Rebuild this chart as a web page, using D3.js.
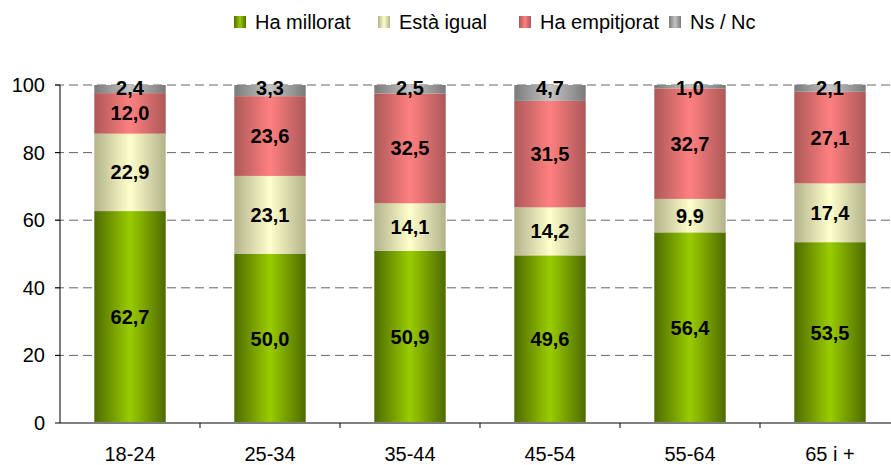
<!DOCTYPE html>
<html>
<head>
<meta charset="utf-8">
<script src="https://cdn.jsdelivr.net/npm/d3@7"></script>
<style>
  body { margin: 0; background: #fff; }
  text { font-family: "Liberation Sans", Arial, sans-serif; }
</style>
</head>
<body>
<div id="chart"></div>
<script>
// data
var categories = ["18-24", "25-34", "35-44", "45-54", "55-64", "65 i +"];
var seriesNames = ["Ha millorat", "Està igual", "Ha empitjorat", "Ns / Nc"];
var millorat   = [62.7, 50.0, 50.9, 49.6, 56.4, 53.5];
var igual      = [22.9, 23.1, 14.1, 14.2, 9.9, 17.4];
var empitjorat = [12.0, 23.6, 32.5, 31.5, 32.7, 27.1];
var nsnc       = [2.4, 3.3, 2.5, 4.7, 1.0, 2.1];
var yTicks = [0, 20, 40, 60, 80, 100];

var width = 891, height = 465;
var margin = {top: 85, right: -9, bottom: 42, left: 60};

var svg = d3.select("#chart").append("svg")
  .attr("width", width)
  .attr("height", height);

// gradients: dark edges, light centre
var grads = [
  {id: "g0", edge: "#4e6b00", mid: "#99cc00"},
  {id: "g1", edge: "#b3b38c", mid: "#ffffcc"},
  {id: "g2", edge: "#ad5858", mid: "#ff8080"},
  {id: "g3", edge: "#7a7a7a", mid: "#c4c4c4"}
];
var defs = svg.append("defs");
grads.forEach(function(g) {
  var lg = defs.append("linearGradient").attr("id", g.id)
    .attr("x1", "0%").attr("x2", "100%").attr("y1", "0%").attr("y2", "0%");
  lg.append("stop").attr("offset", "0%").attr("stop-color", g.edge);
  lg.append("stop").attr("offset", "50%").attr("stop-color", g.mid);
  lg.append("stop").attr("offset", "100%").attr("stop-color", g.edge);
});

var rows = categories.map(function(c, i) {
  return {cat: c, "Ha millorat": millorat[i], "Està igual": igual[i],
          "Ha empitjorat": empitjorat[i], "Ns / Nc": nsnc[i]};
});
var stack = d3.stack().keys(seriesNames)(rows);

var x = d3.scaleBand().domain(categories)
  .range([margin.left, width - margin.right])
  .paddingInner(0.49).paddingOuter(0.245);
var y = d3.scaleLinear().domain([0, 100])
  .range([height - margin.bottom, margin.top]);

// grid lines
svg.append("g").selectAll("line")
  .data(yTicks.filter(function(d) { return d > 0; }))
  .enter().append("line")
  .attr("x1", margin.left - 5).attr("x2", width)
  .attr("y1", function(d) { return y(d); })
  .attr("y2", function(d) { return y(d); })
  .attr("stroke", "#666")
  .attr("stroke-width", 1)
  .attr("stroke-dasharray", "9,5");

// bars
var layer = svg.append("g").selectAll("g")
  .data(stack).enter().append("g")
  .attr("fill", function(d, i) { return "url(#g" + i + ")"; });

layer.selectAll("rect")
  .data(function(d) { return d; })
  .enter().append("rect")
  .attr("x", function(d) { return x(d.data.cat); })
  .attr("width", x.bandwidth())
  .attr("y", function(d) { return y(d[1]); })
  .attr("height", function(d) { return y(d[0]) - y(d[1]); });

// value labels
var fmt = function(v) { return v.toFixed(1).replace(".", ","); };
stack.forEach(function(s) {
  svg.append("g").selectAll("text")
    .data(s).enter().append("text")
    .attr("x", function(d) { return x(d.data.cat) + x.bandwidth() / 2; })
    .attr("y", function(d) {
      var mid = (y(d[0]) + y(d[1])) / 2;
      var v = d[1] - d[0];
      return v < 5 ? y(d[1]) + 10 : mid + 7;
    })
    .attr("text-anchor", "middle")
    .attr("font-size", "20px")
    .attr("font-weight", "bold")
    .attr("fill", "#000")
    .text(function(d) { return fmt(d[1] - d[0]); });
});

// x axis
svg.append("line")
  .attr("x1", margin.left).attr("x2", width)
  .attr("y1", y(0)).attr("y2", y(0))
  .attr("stroke", "#808080").attr("stroke-width", 2);
svg.append("g").selectAll("line")
  .data(categories.slice(1))
  .enter().append("line")
  .attr("x1", function(d) { return x(d) - x.step() * x.paddingInner() / 2; })
  .attr("x2", function(d) { return x(d) - x.step() * x.paddingInner() / 2; })
  .attr("y1", y(0)).attr("y2", y(0) + 5)
  .attr("stroke", "#000");
svg.append("g").selectAll("text")
  .data(categories).enter().append("text")
  .attr("x", function(d) { return x(d) + x.bandwidth() / 2; })
  .attr("y", y(0) + 38)
  .attr("text-anchor", "middle")
  .attr("font-size", "20px")
  .text(function(d) { return d; });

// y axis
svg.append("line")
  .attr("x1", margin.left).attr("x2", margin.left)
  .attr("y1", y(100)).attr("y2", y(0))
  .attr("stroke", "#000");
svg.append("g").selectAll("line")
  .data(yTicks).enter().append("line")
  .attr("x1", margin.left - 5).attr("x2", margin.left)
  .attr("y1", function(d) { return y(d); })
  .attr("y2", function(d) { return y(d); })
  .attr("stroke", "#000");
svg.append("g").selectAll("text")
  .data(yTicks).enter().append("text")
  .attr("x", margin.left - 15)
  .attr("y", function(d) { return y(d) + 7; })
  .attr("text-anchor", "end")
  .attr("font-size", "20px")
  .text(function(d) { return d; });

// legend
var legendX = [234, 378, 519, 669];
var legend = svg.append("g").selectAll("g")
  .data(seriesNames).enter().append("g")
  .attr("transform", function(d, i) { return "translate(" + legendX[i] + ",0)"; });
legend.append("rect")
  .attr("x", 0).attr("y", 16).attr("width", 12).attr("height", 12)
  .attr("fill", function(d, i) { return "url(#g" + i + ")"; });
legend.append("text")
  .attr("x", 21).attr("y", 29)
  .attr("font-size", "20px")
  .text(function(d) { return d; });
</script>
</body>
</html>
